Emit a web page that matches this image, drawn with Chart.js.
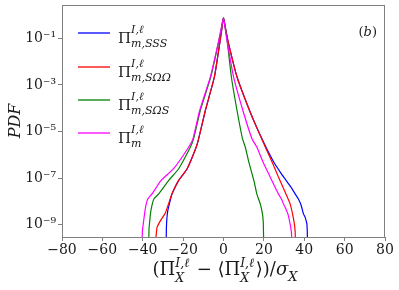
<!DOCTYPE html>
<html>
<head>
<meta charset="utf-8">
<script src="https://cdn.jsdelivr.net/npm/chart.js@4/dist/chart.umd.min.js"></script>
<style>
  html, body { margin: 0; padding: 0; background: #fff; }
  #wrap { width: 399px; height: 290px; }
</style>
</head>
<body>
<div id="wrap"><canvas id="c" width="399" height="290"></canvas></div>
<script>
// Valores (x normalizado, PDF en escala log)
const xSSS = [-28.4, -28.3, -28.1, -27.6, -26.5, -25.5, -22.2, -18.0, -13.5, -12.3, -9.0, -4.5, -1.9, -0.9, 0, 1.1, 2.5, 6.7, 12.9, 16.8, 21.0, 24.8, 28.6, 31.0, 33.5, 35.5, 37.1, 38.5, 39.6, 40.4, 41.3, 41.5, 41.6];
const pdfSSS = [2.0e-10, 6.3e-10, 1.58e-9, 3.98e-9, 1.0e-8, 2.09e-8, 7.94e-8, 2.51e-7, 2.14e-6, 4.90e-6, 7.94e-5, 2.19e-3, 5.89e-2, 0.229, 0.776, 0.240, 5.89e-2, 2.19e-3, 7.94e-5, 1.26e-5, 2.14e-6, 5.01e-7, 1.55e-7, 7.94e-8, 3.98e-8, 2.09e-8, 1.26e-8, 6.61e-9, 2.88e-9, 2.09e-9, 1.07e-9, 5.0e-10, 2.0e-10];

const xSOO = [-33.6, -33.3, -32.9, -31.2, -28.8, -27.2, -25.5, -22.2, -18.0, -13.5, -12.3, -9.0, -4.5, -1.9, -0.9, 0, 1.1, 2.5, 6.7, 12.9, 16.8, 20.7, 24.5, 27.2, 30.0, 33.0, 34.2, 35.1, 35.5, 35.6];
const pdfSOO = [2.0e-10, 3.98e-10, 7.76e-10, 1.48e-9, 3.16e-9, 7.94e-9, 2.09e-8, 7.94e-8, 2.51e-7, 2.14e-6, 4.90e-6, 7.94e-5, 2.19e-3, 5.89e-2, 0.229, 0.776, 0.240, 5.89e-2, 2.19e-3, 7.94e-5, 1.26e-5, 2.14e-6, 3.98e-7, 1.10e-7, 3.16e-8, 7.76e-9, 2.88e-9, 1.07e-9, 5.0e-10, 2.0e-10];

const xSOS = [-37.0, -36.9, -36.6, -36.2, -35.5, -34.5, -32.1, -27.1, -22.2, -16.4, -14.8, -11.5, -6.3, -2.6, -1.2, 0, 1.0, 2.0, 3.9, 6.7, 9.4, 10.8, 12.5, 14.1, 15.3, 16.5, 18.2, 19.3, 19.7, 19.8, 19.9];
const pdfSOS = [2.0e-10, 6.3e-10, 1.26e-9, 2.88e-9, 6.31e-9, 1.26e-8, 2.09e-8, 7.94e-8, 2.51e-7, 2.14e-6, 4.90e-6, 7.94e-5, 2.19e-3, 5.89e-2, 0.240, 0.776, 0.240, 5.89e-2, 2.19e-3, 7.94e-5, 4.90e-6, 2.14e-6, 5.01e-7, 1.55e-7, 6.31e-8, 2.09e-8, 7.76e-9, 2.88e-9, 1.26e-9, 5.0e-10, 2.0e-10];

const xM = [-40.3, -40.2, -39.8, -39.1, -38.5, -37.5, -35.4, -30.9, -24.7, -17.2, -15.1, -11.8, -6.5, -2.7, -1.2, 0, 0.9, 2.0, 5.0, 9.6, 14.1, 16.5, 19.5, 22.3, 25.0, 27.2, 29.0, 29.7, 31.0, 31.9, 33.0, 33.6, 33.9];
const pdfM = [2.0e-10, 5.0e-10, 1.0e-9, 2.88e-9, 6.31e-9, 1.26e-8, 2.09e-8, 7.94e-8, 2.51e-7, 2.14e-6, 4.90e-6, 7.94e-5, 2.19e-3, 5.89e-2, 0.240, 0.776, 0.240, 5.89e-2, 2.19e-3, 7.94e-5, 4.90e-6, 2.14e-6, 5.01e-7, 1.55e-7, 5.01e-8, 2.09e-8, 1.12e-8, 7.76e-9, 4.47e-9, 2.88e-9, 1.07e-9, 5.0e-10, 2.0e-10];

const yTickValues = [1e-9, 1e-7, 1e-5, 1e-3, 1e-1];
const yTickLabels = ['10\u207B\u2079', '10\u207B\u2077', '10\u207B\u2075', '10\u207B\u00B3', '10\u207B\u00B9'];

// etiquetas de la leyenda: Π con superíndice y subíndice
const legendSubs = ['m,SSS', 'm,S\u03A9\u03A9', 'm,S\u03A9S', 'm'];
const seriesColors = ['#0000ff', '#ff0000', '#008000', '#ff00ff'];

const SERIF = '"DejaVu Serif", serif';

const toPoints = (xs, ys) => xs.map((x, i) => ({ x: x, y: ys[i] }));

// texto tipo fórmula: partes normales o apiladas (sup/sub)
function fontOf(size, italic) {
    return (italic ? 'italic ' : '') + size + 'px ' + SERIF;
}
function partWidth(ctx, p) {
    if (p.sup !== undefined) {
        ctx.font = fontOf(p.s, true);
        return Math.max(ctx.measureText(p.sup).width, ctx.measureText(p.sub).width) + (p.gap || 0);
    }
    ctx.font = fontOf(p.s, p.it);
    return ctx.measureText(p.t).width + (p.gap || 0);
}
function drawMath(ctx, parts, x, y, align) {
    let total = 0;
    parts.forEach(p => { total += partWidth(ctx, p); });
    let cx = align === 'center' ? x - total / 2 : (align === 'right' ? x - total : x);
    ctx.textAlign = 'left';
    ctx.textBaseline = 'alphabetic';
    parts.forEach(p => {
        const w = partWidth(ctx, p);
        if (p.sup !== undefined) {
            ctx.font = fontOf(p.s, true);
            ctx.fillText(p.sup, cx, y - p.up);
            ctx.fillText(p.sub, cx, y + p.down);
        } else {
            ctx.font = fontOf(p.s, p.it);
            ctx.fillText(p.t, cx, y + (p.dy || 0));
        }
        cx += w;
    });
}

const decor = {
    id: 'decor',
    afterDraw(chart) {
        const ctx = chart.ctx;
        const a = chart.chartArea;
        ctx.save();
        // marco completo
        ctx.strokeStyle = '#808080';
        ctx.lineWidth = 1;
        ctx.strokeRect(a.left + 0.5, a.top + 0.5, a.right - a.left - 1, a.bottom - a.top);

        ctx.fillStyle = '#1a1a1a';
        // leyenda
        const rows = [33, 67, 100, 133];
        rows.forEach((ly, i) => {
            ctx.strokeStyle = seriesColors[i];
            ctx.lineWidth = 1.3;
            ctx.beginPath();
            ctx.moveTo(78, ly);
            ctx.lineTo(110, ly);
            ctx.stroke();
            drawMath(ctx, [
                { t: '\u03A0', s: 15 },
                { sup: 'I,\u2113', sub: legendSubs[i], s: 11, up: 10, down: 4 }
            ], 118, ly + 10, 'left');
        });

        // (b)
        drawMath(ctx, [
            { t: '(', s: 13 }, { t: 'b', s: 13, it: true }, { t: ')', s: 13 }
        ], 377, 36, 'right');

        // título eje x
        const stack = { sup: 'I,\u2113', sub: 'X', s: 12.5, up: 8, down: 7, gap: 1.5 };
        drawMath(ctx, [
            { t: '(\u03A0', s: 18 }, stack,
            { t: ' \u2212 \u27E8\u03A0', s: 18 }, stack,
            { t: '\u27E9)/', s: 18 }, { t: '\u03C3', s: 18, it: true },
            { t: 'X', s: 13, it: true, dy: 6 }
        ], 225, 275, 'center');

        // título eje y
        ctx.translate(20, 121);
        ctx.rotate(-Math.PI / 2);
        ctx.font = fontOf(16, true);
        ctx.textAlign = 'center';
        ctx.textBaseline = 'alphabetic';
        ctx.fillText('PDF', 0, 0);
        ctx.restore();
    }
};

const mkSet = (label, xs, ys, color, order) => ({
    label: label,
    data: toPoints(xs, ys),
    borderColor: color,
    backgroundColor: color,
    borderWidth: 1.2,
    pointRadius: 0,
    tension: 0.15,
    fill: false,
    order: order,
});

new Chart(document.getElementById('c').getContext('2d'), {
    type: 'line',
    data: {
        datasets: [
            mkSet('SSS', xSSS, pdfSSS, seriesColors[0], 4),
            mkSet('SOO', xSOO, pdfSOO, seriesColors[1], 3),
            mkSet('SOS', xSOS, pdfSOS, seriesColors[2], 2),
            mkSet('m', xM, pdfM, seriesColors[3], 1),
        ],
    },
    options: {
        responsive: false,
        animation: false,
        devicePixelRatio: 1,
        layout: { padding: { left: 0, right: 14, top: 5, bottom: 0 } },
        plugins: {
            legend: { display: false },
            tooltip: { enabled: false },
        },
        scales: {
            x: {
                type: 'linear',
                min: -80,
                max: 80,
                border: { display: true, color: '#808080', width: 1 },
                grid: { display: true, drawOnChartArea: false, tickLength: 4, color: '#808080' },
                ticks: {
                    stepSize: 20,
                    padding: 1,
                    color: '#1a1a1a',
                    font: { family: SERIF, size: 14 },
                    maxRotation: 0,
                    callback: v => v < 0 ? '\u2212' + (-v) : String(v),
                },
                afterFit: s => { s.height = 53; s.paddingLeft = 0; s.paddingRight = 0; },
            },
            y: {
                type: 'logarithmic',
                min: 2.93e-10,
                max: 2.7,
                border: { display: true, color: '#808080', width: 1 },
                grid: { display: true, drawOnChartArea: false, tickLength: 4, color: '#808080' },
                afterBuildTicks: s => { s.ticks = yTickValues.map(v => ({ value: v })); },
                ticks: {
                    autoSkip: false,
                    padding: 2,
                    color: '#1a1a1a',
                    font: { family: SERIF, size: 14 },
                    callback: (v, i) => yTickLabels[i],
                },
                afterFit: s => { s.width = 62; s.paddingTop = 0; s.paddingBottom = 0; },
            },
        },
    },
    plugins: [decor],
});
</script>
</body>
</html>
